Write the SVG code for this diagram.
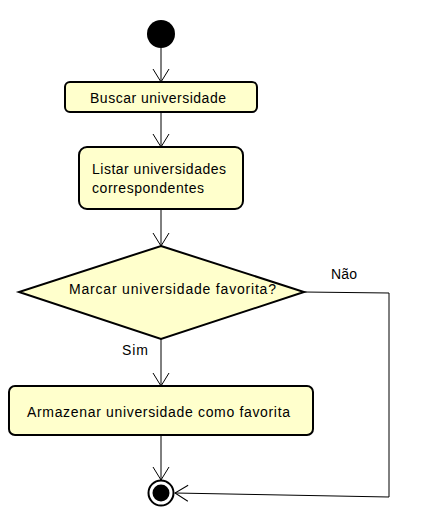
<svg xmlns="http://www.w3.org/2000/svg" width="437" height="516" viewBox="0 0 437 516">
<defs>
<style>
.node{fill:#FFFFCC;stroke:#000;stroke-width:2}
.t{font-family:"Liberation Sans",Arial,sans-serif;font-size:14px;fill:#000}
.c{fill:none;stroke:#000;stroke-width:1}
</style>
<marker id="open" markerUnits="userSpaceOnUse" markerWidth="20" markerHeight="20" viewBox="-14 -10 16 20" refX="0" refY="0" orient="auto">
<path d="M-13,-8 L0,0 L-13,8" fill="none" stroke="#000" stroke-width="1"/>
</marker>
</defs>
<rect width="437" height="516" fill="#fff"/>
<g id="connectors">
<line class="c" x1="161" y1="48" x2="161" y2="82" marker-end="url(#open)"/>
<line class="c" x1="161" y1="112" x2="161" y2="147" marker-end="url(#open)"/>
<line class="c" x1="161" y1="209" x2="161" y2="246" marker-end="url(#open)"/>
<line class="c" x1="161" y1="339" x2="161" y2="386" marker-end="url(#open)"/>
<line class="c" x1="161" y1="435" x2="161" y2="480" marker-end="url(#open)"/>
<polyline class="c" points="304,292 389,293 389,497 175,493" marker-end="url(#open)"/>
<text class="t" x="331" y="279" textLength="26" lengthAdjust="spacing">Não</text>
<text class="t" x="122" y="355" textLength="26" lengthAdjust="spacing">Sim</text>
</g>
<g id="start">
<circle cx="161" cy="34" r="14" fill="#000"/>
</g>
<g id="buscar">
<rect class="node" x="65" y="82" width="192" height="30" rx="5"/>
<text class="t" x="90" y="103" textLength="136" lengthAdjust="spacing">Buscar universidade</text>
</g>
<g id="listar">
<rect class="node" x="79" y="147" width="164" height="62" rx="8"/>
<text class="t" x="92" y="174" textLength="134" lengthAdjust="spacing">Listar universidades</text>
<text class="t" x="92" y="193" textLength="112" lengthAdjust="spacing">correspondentes</text>
</g>
<g id="decisao">
<polygon class="node" points="161,246 304,292 161,339 19,292"/>
<text class="t" x="69" y="294" textLength="207" lengthAdjust="spacing">Marcar universidade favorita?</text>
</g>
<g id="armazenar">
<rect class="node" x="9" y="386" width="304" height="49" rx="6"/>
<text class="t" x="27" y="417" textLength="263" lengthAdjust="spacing">Armazenar universidade como favorita</text>
</g>
<g id="end">
<circle cx="161" cy="493" r="12.5" fill="#fff" stroke="#000" stroke-width="2"/>
<circle cx="161" cy="493" r="8.5" fill="#000"/>
</g>
</svg>
